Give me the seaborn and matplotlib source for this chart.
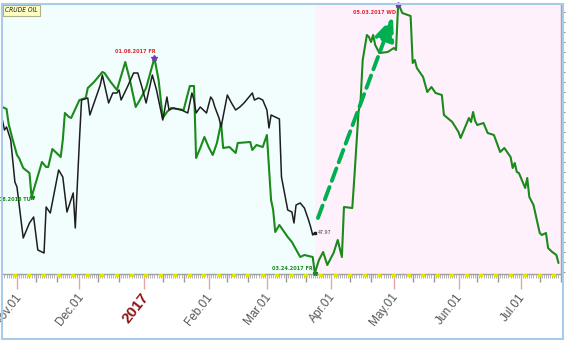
import os
import numpy as np
import pandas as pd
import matplotlib
matplotlib.use("Agg")
import matplotlib.pyplot as plt
import matplotlib.dates as mdates
from matplotlib import font_manager
from matplotlib.font_manager import FontProperties
from matplotlib.patches import Rectangle
from matplotlib.transforms import ScaledTranslation
import seaborn as sns

# ---- actual crude oil closes (black) ----
black_dates = [
    "2016-10-25", "2016-10-26", "2016-10-27", "2016-10-29", "2016-10-31", "2016-11-01",
    "2016-11-04", "2016-11-07", "2016-11-09", "2016-11-11", "2016-11-14", "2016-11-15",
    "2016-11-17", "2016-11-21", "2016-11-23", "2016-11-25", "2016-11-28", "2016-11-29",
    "2016-12-01", "2016-12-02", "2016-12-05", "2016-12-06", "2016-12-11", "2016-12-12",
    "2016-12-15", "2016-12-17", "2016-12-19", "2016-12-20", "2016-12-21", "2016-12-24",
    "2016-12-27", "2016-12-29", "2016-12-31", "2017-01-02", "2017-01-05", "2017-01-07",
    "2017-01-10", "2017-01-12", "2017-01-13", "2017-01-15", "2017-01-19", "2017-01-22",
    "2017-01-24", "2017-01-25", "2017-01-26", "2017-01-28", "2017-01-31", "2017-02-02",
    "2017-02-03", "2017-02-04", "2017-02-06", "2017-02-07", "2017-02-10", "2017-02-12",
    "2017-02-14", "2017-02-16", "2017-02-18", "2017-02-22", "2017-02-23", "2017-02-25",
    "2017-02-27", "2017-03-01", "2017-03-02", "2017-03-03", "2017-03-05", "2017-03-07",
    "2017-03-08", "2017-03-11", "2017-03-13", "2017-03-14", "2017-03-15", "2017-03-17",
    "2017-03-19", "2017-03-21", "2017-03-22", "2017-03-23", "2017-03-24",
]
black_values = [
    53.60, 53.10, 53.25, 52.60, 50.50, 50.25,
    47.70, 48.45, 48.75, 47.10, 46.95, 49.25,
    48.95, 51.10, 50.75, 49.00, 49.95, 48.20,
    52.60, 54.60, 54.70, 53.85, 55.35, 55.85,
    54.45, 54.95, 54.95, 55.10, 54.60, 55.25,
    55.95, 55.95, 55.25, 54.45, 55.85, 55.10,
    53.60, 54.75, 54.10, 54.20, 54.10, 53.95,
    54.95, 54.60, 53.95, 54.25, 53.95, 54.75,
    54.60, 54.25, 53.70, 53.25, 54.85, 54.45,
    54.10, 54.25, 54.45, 54.95, 54.60, 54.70,
    54.60, 54.10, 53.20, 53.85, 53.75, 53.65,
    50.75, 49.10, 49.00, 48.45, 49.35, 49.45,
    49.20, 48.60, 48.25, 47.85, 47.97,
]

# ---- projection line (green) ----
green_dates = [
    "2016-10-25", "2016-10-27", "2016-10-28", "2016-10-30", "2016-11-01", "2016-11-02",
    "2016-11-04", "2016-11-07", "2016-11-08", "2016-11-09", "2016-11-10", "2016-11-13",
    "2016-11-15", "2016-11-16", "2016-11-18", "2016-11-21", "2016-11-22", "2016-11-23",
    "2016-11-24", "2016-11-26", "2016-11-27", "2016-12-01", "2016-12-04", "2016-12-05",
    "2016-12-08", "2016-12-12", "2016-12-13", "2016-12-16", "2016-12-19", "2016-12-23",
    "2016-12-25", "2016-12-28", "2016-12-30", "2017-01-02", "2017-01-06", "2017-01-08",
    "2017-01-10", "2017-01-12", "2017-01-14", "2017-01-20", "2017-01-23", "2017-01-25",
    "2017-01-26", "2017-01-28", "2017-01-30", "2017-02-01", "2017-02-03", "2017-02-05",
    "2017-02-07", "2017-02-08", "2017-02-11", "2017-02-14", "2017-02-15", "2017-02-21",
    "2017-02-22", "2017-02-24", "2017-02-27", "2017-03-01", "2017-03-03", "2017-03-04",
    "2017-03-05", "2017-03-07", "2017-03-11", "2017-03-13", "2017-03-17", "2017-03-19",
    "2017-03-23", "2017-03-24", "2017-03-26", "2017-03-28", "2017-03-30", "2017-04-02",
    "2017-04-04", "2017-04-06", "2017-04-07", "2017-04-11", "2017-04-12", "2017-04-14",
    "2017-04-15", "2017-04-16", "2017-04-18", "2017-04-19", "2017-04-20", "2017-04-21",
    "2017-04-22", "2017-04-24", "2017-04-28", "2017-05-01", "2017-05-02", "2017-05-03",
    "2017-05-04", "2017-05-05", "2017-05-09", "2017-05-10", "2017-05-11", "2017-05-12",
    "2017-05-15", "2017-05-17", "2017-05-19", "2017-05-21", "2017-05-24", "2017-05-25",
    "2017-05-29", "2017-06-01", "2017-06-02", "2017-06-04", "2017-06-06", "2017-06-07",
    "2017-06-08", "2017-06-09", "2017-06-10", "2017-06-13", "2017-06-15", "2017-06-18",
    "2017-06-21", "2017-06-23", "2017-06-26", "2017-06-27", "2017-06-28", "2017-06-29",
    "2017-06-30", "2017-07-03", "2017-07-04", "2017-07-05", "2017-07-07", "2017-07-10",
    "2017-07-11", "2017-07-13", "2017-07-14", "2017-07-16", "2017-07-18", "2017-07-19",
]
green_values = [
    54.25, 54.15, 53.40, 52.60, 51.85, 51.70,
    51.20, 50.95, 49.75, 50.10, 50.45, 51.50,
    51.25, 51.25, 52.15, 51.85, 51.75, 52.60,
    53.95, 53.75, 53.70, 54.60, 54.70, 55.20,
    55.50, 56.00, 55.95, 55.50, 55.10, 56.50,
    55.70, 54.25, 54.60, 55.20, 56.70, 55.60,
    53.70, 54.00, 54.20, 54.10, 55.30, 55.30,
    51.70, 52.20, 52.75, 52.25, 51.85, 52.45,
    53.45, 52.20, 52.25, 51.95, 52.45, 52.50,
    52.10, 52.35, 52.25, 52.85, 49.60, 49.10,
    48.00, 48.35, 47.75, 47.50, 46.75, 46.85,
    46.75, 45.95, 46.60, 47.00, 46.35, 46.95,
    47.60, 46.75, 49.25, 49.20, 50.75, 54.00,
    54.60, 56.60, 57.85, 57.75, 57.50, 57.85,
    57.35, 56.95, 57.00, 57.20, 57.10, 59.33,
    59.20, 58.95, 58.80, 56.45, 56.60, 56.20,
    55.75, 55.00, 55.25, 54.95, 54.85, 53.85,
    53.50, 53.00, 52.70, 53.20, 53.70, 53.50,
    54.00, 53.55, 53.35, 53.45, 52.95, 52.85,
    52.00, 52.20, 51.75, 51.20, 51.45, 51.00,
    50.95, 50.20, 50.70, 49.75, 49.35, 47.95,
    47.85, 47.95, 47.20, 47.00, 46.85, 46.45,
]

# turning points annotated on the green line: (date, text, kind)
turning_points = [
    ("2016-11-08", "11.08.2016 TU", "low"),
    ("2017-01-06", "01.06.2017 FR", "high"),
    ("2017-03-24", "03.24.2017 FR", "low"),
    ("2017-05-03", "05.03.2017 WD", "high"),
]
last_close_label = "47.97"
forecast_start = "2017-03-24"
trend_arrow = (("2017-03-25 12:00", 48.70), ("2017-04-30 12:00", 58.75))
month_ticks = ["2016-11-01", "2016-12-01", "2017-01-01", "2017-02-01", "2017-03-01",
               "2017-04-01", "2017-05-01", "2017-06-01", "2017-07-01"]
month_labels = ["Nov.01", "Dec.01", "2017", "Feb.01", "Mar.01",
                "Apr.01", "May.01", "Jun.01", "Jul.01"]
title_text = "CRUDE OIL"

sns.set_style("white")
plt.rcParams["font.family"] = ["Liberation Sans", "DejaVu Sans"]

W, H = 566, 343
fig = plt.figure(figsize=(W / 100, H / 100), dpi=100)
fig.patch.set_facecolor("white")
ax = fig.add_axes([3 / W, 69 / H, 558 / W, 269 / H])
ax.set_facecolor("none")


def narrow_props(bold=False, italic=False):
    """Prefer a narrow sans face for the small chart annotations."""
    picks = []
    for f in font_manager.fontManager.ttflist:
        fn = os.path.basename(f.fname).lower()
        if not ("narrow" in fn or "condensed" in fn):
            continue
        if not ("liberation" in fn or "dejavusans" in fn) or "mono" in fn:
            continue
        if ("bold" in fn) != bold:
            continue
        if (("italic" in fn) or ("oblique" in fn)) != italic:
            continue
        picks.append(f.fname)
    picks.sort(key=lambda p: ("liberation" not in p.lower(), p))
    if picks:
        return FontProperties(fname=picks[0])
    return FontProperties(family="Liberation Sans",
                          weight="bold" if bold else "normal",
                          style="italic" if italic else "normal")


def fit_size(text, props, target_px):
    props = props.copy()
    props.set_size(10)
    t = fig.text(0, 0, text, fontproperties=props)
    w = t.get_window_extent(fig.canvas.get_renderer()).width
    t.remove()
    props.set_size(10 * target_px / w)
    return props


label_font = fit_size("01.06.2017 FR", narrow_props(bold=True), 40)
value_font = fit_size(last_close_label, narrow_props(bold=False), 14)
title_font = fit_size(title_text, narrow_props(italic=True), 33)

x0 = pd.Timestamp("2016-10-25 07:00")
x1 = pd.Timestamp("2017-07-20 05:00")
split = pd.Timestamp(forecast_start)

ax.axvspan(x0, split, color="#F2FEFE", zorder=0, lw=0)
ax.axvspan(split, x1, color="#FFF1FC", zorder=0, lw=0)

gd = pd.to_datetime(green_dates)
bd = pd.to_datetime(black_dates)
sns.lineplot(x=gd, y=green_values, ax=ax, color="#1B8A1B", lw=1.5,
             estimator=None, zorder=3)
sns.lineplot(x=bd, y=black_values, ax=ax, color="#1E1E1E", lw=1.1,
             estimator=None, zorder=4)

ax.set_xlim(x0, x1)
ax.set_ylim(45.90, 59.35)

# turning point labels
g_lookup = dict(zip(gd, green_values))
offsets = {
    "2016-11-08": ((-0.5, -1.5), "center"),
    "2017-01-06": ((0.5, 3.0), "bottom"),
    "2017-03-24": ((-1.5, 3.0), "center"),
    "2017-05-03": ((-1.5, -5.0), "center"),
}
for d, txt, kind in turning_points:
    t = pd.Timestamp(d)
    v = g_lookup[t]
    if kind == "high":
        ax.plot([t], [v], marker="*", ms=4, color="#6A3AB0", zorder=6, clip_on=False)
        col = "#E0262E"
    else:
        ax.plot([t], [v], marker="*", ms=3.5, color="#1B8A1B", zorder=6, clip_on=False)
        col = "#1B8A1B"
    off, va = offsets[d]
    ann = ax.annotate(txt, xy=(t, v), xytext=off, textcoords="offset points",
                      ha="right", va=va, color=col, annotation_clip=False,
                      zorder=7, fontproperties=label_font)
    ann.set_clip_on(True)

# last close of the black series
bt, bv = bd[-1], black_values[-1]
ax.plot([bt], [bv], marker="s", ms=1.8, color="#1E1E1E", zorder=6)
ax.annotate(last_close_label, xy=(bt, bv), xytext=(2.5, 0), textcoords="offset points",
            ha="left", va="center", color="#404040", fontproperties=value_font,
            zorder=7)

# dashed trend arrow
(a_d, a_v), (b_d, b_v) = trend_arrow
ax.annotate("", xy=(mdates.date2num(pd.Timestamp(b_d)), b_v),
            xytext=(mdates.date2num(pd.Timestamp(a_d)), a_v),
            arrowprops=dict(arrowstyle="-|>,head_length=0.7,head_width=0.3",
                            mutation_scale=20, color="#00B050", lw=2.8,
                            linestyle=(0, (3.4, 1.7)), shrinkA=0, shrinkB=0),
            zorder=5)

# title box
ax.text(2 / 558, 1 - 2.5 / 269, title_text, transform=ax.transAxes, ha="left", va="top",
        color="#202020", zorder=8, fontproperties=title_font,
        bbox=dict(boxstyle="square,pad=0.35", fc="#FFFFC4", ec="#B0B088", lw=0.8))

# x axis: month ticks, daily minor ticks
ax.set_xticks(pd.to_datetime(month_ticks))
ax.set_xticklabels(month_labels, rotation=52, ha="right", va="center",
                   rotation_mode="anchor")
ax.xaxis.set_minor_locator(mdates.DayLocator())
ax.tick_params(axis="x", which="both", bottom=True, top=False, direction="out")
ax.tick_params(axis="x", which="major", length=11, width=1, color="#E8A4A8",
               pad=4, labelsize=8.5, labelcolor="#555555")
ax.tick_params(axis="x", which="minor", length=3, width=0.6, color="#A8A8A8")
shift = ScaledTranslation(2 / 100, 0, fig.dpi_scale_trans)
for lbl in ax.get_xticklabels():
    lbl.set_transform(lbl.get_transform() + shift)
    if lbl.get_text() == "2017":
        lbl.set_color("#8E1414")
        lbl.set_fontweight("bold")
        lbl.set_fontsize(11)

days = pd.date_range(x0.normalize(), x1, freq="D")
dec_days = [d for d in days if d.day in (10, 20)]
mondays = pd.date_range(x0.normalize(), x1, freq="W-MON")
ax.vlines(dec_days, -8 / 269, 0, transform=ax.get_xaxis_transform(),
          color="#9A9A9A", lw=1, clip_on=False, zorder=3)
ax.vlines(mondays, -3.2 / 269, 0, transform=ax.get_xaxis_transform(),
          color="#E4E400", lw=3, clip_on=False, zorder=3)

# y axis on the right, ticks only
ax.yaxis.tick_right()
ax.set_yticks(np.arange(46.0, 59.01, 0.5))
ax.tick_params(axis="y", which="major", right=True, left=False, length=3, width=0.8,
               color="#909090", labelright=False, labelleft=False, direction="out")
ax.set_xlabel("")
ax.set_ylabel("")

for s in ("left", "top"):
    ax.spines[s].set_visible(False)
for s in ("right", "bottom"):
    ax.spines[s].set_color("#A0A0A0")
    ax.spines[s].set_linewidth(1)

# outer frame
fig.patches.append(Rectangle((2 / W, 4 / H), 561 / W, 335 / H, transform=fig.transFigure,
                             fill=False, ec="#A8CBEA", lw=1.5, zorder=10))

fig.savefig("out.png", dpi=100)
